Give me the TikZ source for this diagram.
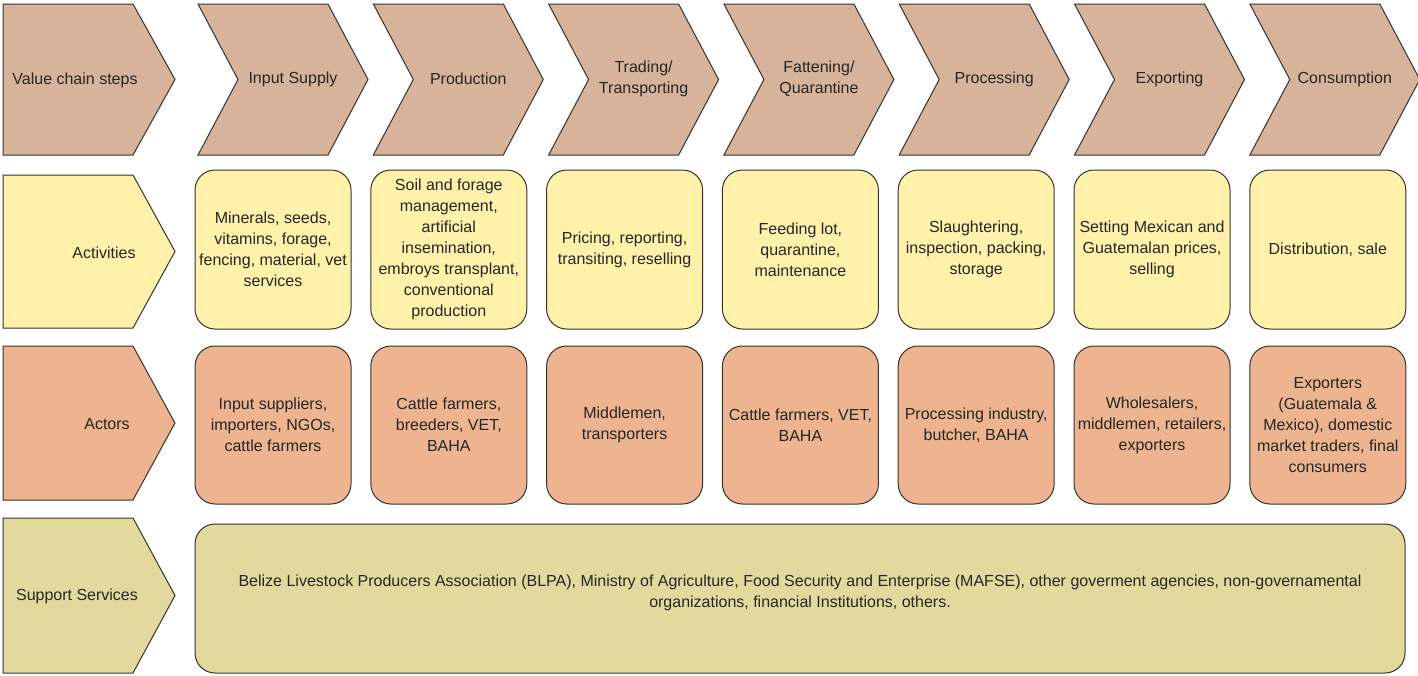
\documentclass[tikz,border=0pt]{standalone}
\usepackage{fontspec}
\setmainfont{Liberation Sans}
\definecolor{stepfill}{RGB}{214,179,154}
\definecolor{actfill}{RGB}{255,241,170}
\definecolor{actorfill}{RGB}{237,180,143}
\definecolor{supfill}{RGB}{228,217,156}
\definecolor{edge}{RGB}{55,50,45}
\tikzset{
	chev/.style={draw=edge, line width=1pt, line join=miter},
	cell/.style={draw=edge, line width=1pt, rounded corners=20pt, align=center, minimum width=156pt, inner sep=2pt},
	lbl/.style={align=center, text=black!85}
}
\begin{document}
\begin{tikzpicture}[x=1pt, y=-1pt, font=\fontsize{16}{21}\selectfont]
	\useasboundingbox (0,0) rectangle (1418,675);
	\foreach \ya/\yb/\col/\tx/\lname/\txt in {4/155/stepfill/75/steps/Value chain steps, 175/328/actfill/104/activities/Activities, 346/500/actorfill/107/actors/Actors, 518/673/supfill/77/support/Support Services}
	{
		\draw[chev, fill=\col] (3,\ya) -- (133,\ya) -- (175,{(\ya+\yb)/2}) -- (133,\yb) -- (3,\yb) -- cycle;
		\node[lbl] (\lname) at (\tx,{(\ya+\yb)/2+1}) {\txt};
	}
	\foreach \i/\txt in {0/Input Supply, 1/Production, 2/{Trading/\\Transporting}, 3/{Fattening/\\Quarantine}, 4/Processing, 5/Exporting, 6/Consumption}
	{
		\draw[chev, fill=stepfill] ({198+175.3*\i},4) -- ++(130,0) -- ++(40,75.5) -- ++(-40,75.5) -- ++(-130,0) -- ++(40,-75.5) -- cycle;
		\node[lbl] (step\i) at ({293+175.3*\i},79) {\txt};
	}
	\foreach \i/\txt in {0/{Minerals, seeds,\\vitamins, forage,\\fencing, material, vet\\services}, 1/{Soil and forage\\management,\\artificial\\insemination,\\embroys transplant,\\conventional\\production}, 2/{Pricing, reporting,\\transiting, reselling}, 3/{Feeding lot,\\quarantine,\\maintenance}, 4/{Slaughtering,\\inspection, packing,\\storage}, 5/{Setting Mexican and\\Guatemalan prices,\\selling}, 6/{Distribution, sale}}
		\node[cell, fill=actfill, minimum height=159pt, text=black!85] (act\i) at ({273+175.8*\i},249.5) {\txt};
	\foreach \i/\txt in {0/{Input suppliers,\\importers, NGOs,\\cattle farmers}, 1/{Cattle farmers,\\breeders, VET,\\BAHA}, 2/{Middlemen,\\transporters}, 3/{Cattle farmers, VET,\\BAHA}, 4/{Processing industry,\\butcher, BAHA}, 5/{Wholesalers,\\middlemen, retailers,\\exporters}, 6/{Exporters\\(Guatemala \&\\Mexico), domestic\\market traders, final\\consumers}}
		\node[cell, fill=actorfill, minimum height=158pt, text=black!85] (actor\i) at ({273+175.8*\i},425) {\txt};
	\node[cell, fill=supfill, minimum width=1210pt, minimum height=149pt] (services) at (800,598.5) {};
	\node[lbl] (servicestext) at (800,593) {Belize Livestock Producers Association (BLPA), Ministry of Agriculture, Food Security and Enterprise (MAFSE), other goverment agencies, non-governamental\\organizations, financial Institutions, others.};
\end{tikzpicture}
\end{document}
